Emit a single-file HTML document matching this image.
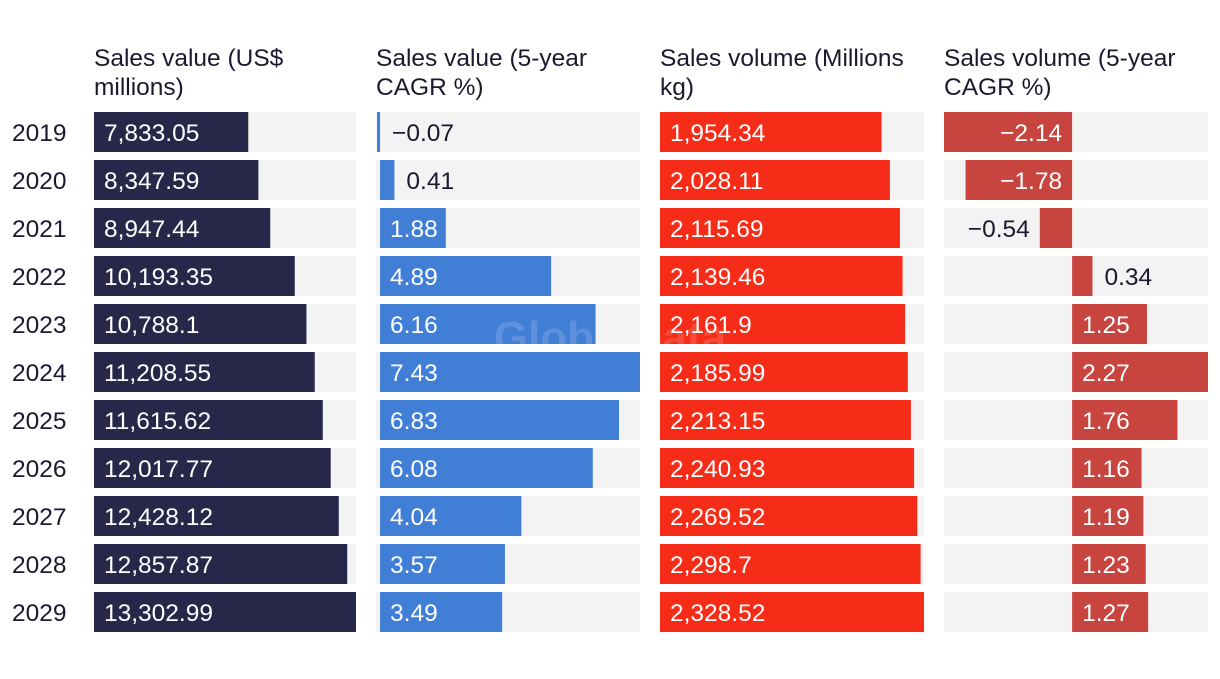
<!DOCTYPE html>
<html><head><meta charset="utf-8">
<style>
html,body{margin:0;padding:0;background:#fff;}
body{width:1220px;height:674px;overflow:hidden;font-family:"Liberation Sans",sans-serif;}
svg text{font-family:"Liberation Sans",sans-serif;}
</style></head>
<body>
<svg id="chart" width="1220" height="674" xmlns="http://www.w3.org/2000/svg"></svg>
<script>
const years = ["2019","2020","2021","2022","2023","2024","2025","2026","2027","2028","2029"];
const salesValue = [7833.05,8347.59,8947.44,10193.35,10788.1,11208.55,11615.62,12017.77,12428.12,12857.87,13302.99];
const salesValueLabels = ["7,833.05","8,347.59","8,947.44","10,193.35","10,788.1","11,208.55","11,615.62","12,017.77","12,428.12","12,857.87","13,302.99"];
const valueCagr = [-0.07,0.41,1.88,4.89,6.16,7.43,6.83,6.08,4.04,3.57,3.49];
const valueCagrLabels = ["\u22120.07","0.41","1.88","4.89","6.16","7.43","6.83","6.08","4.04","3.57","3.49"];
const salesVolume = [1954.34,2028.11,2115.69,2139.46,2161.9,2185.99,2213.15,2240.93,2269.52,2298.7,2328.52];
const salesVolumeLabels = ["1,954.34","2,028.11","2,115.69","2,139.46","2,161.9","2,185.99","2,213.15","2,240.93","2,269.52","2,298.7","2,328.52"];
const volumeCagr = [-2.14,-1.78,-0.54,0.34,1.25,2.27,1.76,1.16,1.19,1.23,1.27];
const volumeCagrLabels = ["\u22122.14","\u22121.78","\u22120.54","0.34","1.25","2.27","1.76","1.16","1.19","1.23","1.27"];

const NS="http://www.w3.org/2000/svg";
const svg=document.getElementById('chart');
function mk(tag,attrs){const e=document.createElementNS(NS,tag);for(const k in attrs)e.setAttribute(k,attrs[k]);svg.appendChild(e);return e;}

const rowTop=i=>112+48*i;
const barH=40;
const FS=24.5;

const cols=[
 {name:"sales-value",title:["Sales value (US$","millions)"],x0:94,x1:356,p0:94,vals:salesValue,labels:salesValueLabels,color:"#27274a"},
 {name:"sales-value-cagr",title:["Sales value (5-year","CAGR %)"],x0:376,x1:640,p0:377.6,vals:valueCagr,labels:valueCagrLabels,color:"#417ed6"},
 {name:"sales-volume",title:["Sales volume (Millions","kg)"],x0:660,x1:924,p0:660,vals:salesVolume,labels:salesVolumeLabels,color:"#f52c17"},
 {name:"sales-volume-cagr",title:["Sales volume (5-year","CAGR %)"],x0:944,x1:1208,p0:944,vals:volumeCagr,labels:volumeCagrLabels,color:"#c8443f"}
];

years.forEach((y,i)=>{
  const t=mk('text',{x:12,y:rowTop(i)+29,'font-size':FS,fill:'#1a1a2e'});
  
  
  t.textContent=y;
});

cols.forEach(c=>{
  const mn=Math.min(0,...c.vals), mx=Math.max(0,...c.vals);
  const sx=v=>c.p0+(v-mn)/(mx-mn)*(c.x1-c.p0);
  c.title.forEach((ln,k)=>{
    const t=mk('text',{x:c.x0,y:66+29*k,'font-size':FS,fill:'#1a1a2e'});
    
    
    t.textContent=ln;
  });
  c.vals.forEach((v,i)=>{
    const y=rowTop(i);
    const tr=mk('rect',{x:c.x0,y:y,width:c.x1-c.x0,height:barH,fill:'#f3f3f3'});
    
    
    const a=sx(0),b=sx(v);
    const bx=Math.min(a,b),bw=Math.max(Math.abs(b-a),3);
    const r=mk('rect',{x:(v<0&&Math.abs(b-a)<3)?a-3:bx,y:y,width:bw,height:barH,fill:c.color});
    
    
    const w=Math.abs(b-a);
    let tx,anchor,fill;
    const lw=c.labels[i].length*11+8;
    if(w>=lw+8){
      fill='#fff';
      if(v<0){tx=a-10;anchor='end';}else{tx=a+10;anchor='start';}
    }else{
      fill='#1a1a2e';
      if(v<0){ if(c.name==='sales-value-cagr'){tx=a+12;anchor='start';} else {tx=b-10;anchor='end';} }
      else{tx=b+12;anchor='start';}
    }
    const t=mk('text',{x:tx,y:y+29,'font-size':FS,fill:fill,'text-anchor':anchor});
    
    
    t.textContent=c.labels[i];
  });
});

const wm=mk('text',{x:610,y:352,'font-size':44,'font-weight':'bold',fill:'#ffffff','fill-opacity':0.15,'text-anchor':'middle'});


wm.textContent='GlobalData';
</script>
</body></html>
